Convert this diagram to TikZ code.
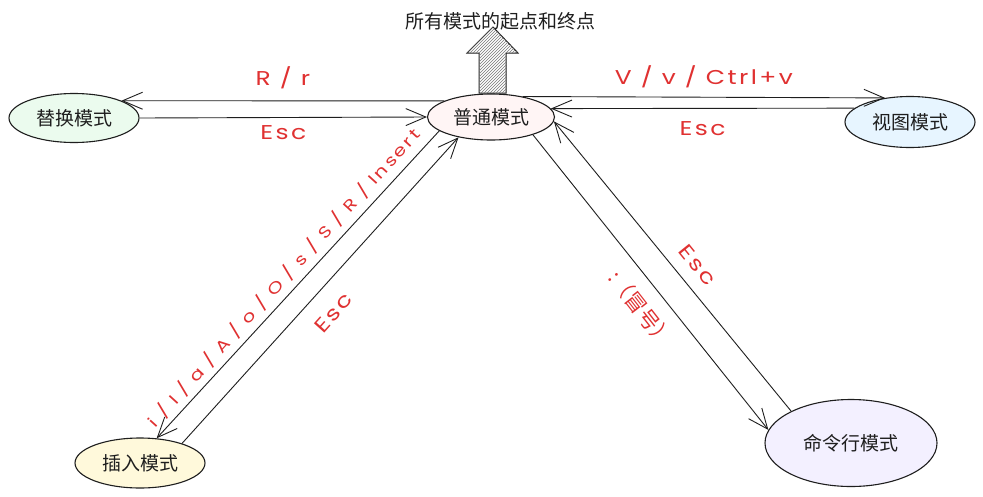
\documentclass[tikz,border=0pt]{standalone}
\usepackage{fontspec}
\setmainfont{Noto Sans CJK SC}
\newfontfamily\hand[FakeStretch=1.25,LetterSpace=12]{Poppins}
\newfontfamily\handwide[FakeStretch=1.25,LetterSpace=16]{Poppins}
\usetikzlibrary{arrows.meta,shapes.geometric,patterns}
\definecolor{ink}{HTML}{1E1E1E}
\definecolor{redtxt}{HTML}{E03131}
\definecolor{fgreen}{HTML}{EBFBEE}
\definecolor{fpink}{HTML}{FFF5F5}
\definecolor{fblue}{HTML}{E7F5FF}
\definecolor{fyellow}{HTML}{FFF9DB}
\definecolor{fviolet}{HTML}{F3F0FF}
\tikzset{
  mode/.style={ellipse, draw=ink, line width=1.1pt, inner sep=0pt, font=\fontsize{19}{19}\selectfont, text=ink},
  conn/.style={draw=ink, line width=0.9pt, -{Straight Barb[length=20pt,width=17pt,line width=0.9pt]}},
  lbl/.style={text=redtxt, font=\hand\fontsize{20}{20}\selectfont, inner sep=0pt},
  lblsmall/.style={text=redtxt, font=\handwide\fontsize{16}{16}\selectfont, inner sep=0pt},
  lblcjk/.style={text=redtxt, font=\fontsize{21}{21}\selectfont, inner sep=0pt},
}
\begin{document}
\begin{tikzpicture}[x=1pt,y=-1pt]
\useasboundingbox[fill=white] (0,0) rectangle (983,496);
% nodes
\node[mode, fill=fgreen, minimum width=130pt, minimum height=49pt] (repl) at (74,118) {替换模式};
\node[mode, fill=fpink, minimum width=127pt, minimum height=46pt] (normal) at (491,117) {普通模式};
\node[mode, fill=fblue, minimum width=130pt, minimum height=51pt] (visual) at (910,122) {视图模式};
\node[mode, fill=fyellow, minimum width=130pt, minimum height=50pt] (insert) at (140,463) {插入模式};
\node[mode, fill=fviolet, minimum width=172pt, minimum height=87pt] (cmd) at (851,443) {命令行模式};
% title and big arrow
\node[font=\fontsize{19}{19}\selectfont, text=ink, inner sep=0pt] (title) at (500,21) {所有模式的起点和终点};
\filldraw[draw=ink, line width=1pt, fill=white] (479,93) -- (479,53) -- (467,53) -- (493,27) -- (518,53) -- (506,53) -- (506,93) -- cycle;
\fill[pattern=north east lines, pattern color=ink!60] (479,93) -- (479,53) -- (467,53) -- (493,27) -- (518,53) -- (506,53) -- (506,93) -- cycle;
% connectors
\draw[conn] (normal.161) -- node[lbl, pos=0.5, yshift=23pt] (lrr) {R / r} (repl.20);
\draw[conn] (repl.east) -- node[lbl, pos=0.5, yshift=-15pt] (lesc1) {Esc} (normal.west);
\draw[conn] (normal.33) -- node[lbl, pos=0.5, yshift=20pt] (lv) {V / v / Ctrl+v} (visual.136);
\draw[conn] (visual.166.7) -- node[lbl, pos=0.5, yshift=-20pt] (lesc2) {Esc} (normal.8.7);
\draw[conn] (normal.195.4) -- node[lblsmall, pos=0.51, rotate=47.8, yshift=15pt] (lins) {i / I / a / A / o / O / s / S / R / Insert} (insert.56.8);
\draw[conn] (insert.25) -- node[lbl, pos=0.48, rotate=48.2, yshift=-25pt] (lesc3) {Esc} (normal.212.6);
\draw[conn] (normal.337.8) -- node[lblcjk, pos=0.54, rotate=-52.1, yshift=-24pt] (lcolon) {:（冒号）} (cmd.171);
\draw[conn] (cmd.152.3) -- node[lbl, pos=0.46, rotate=-51.1, yshift=20pt] (lesc4) {Esc} (normal.356.5);
\end{tikzpicture}
\end{document}
